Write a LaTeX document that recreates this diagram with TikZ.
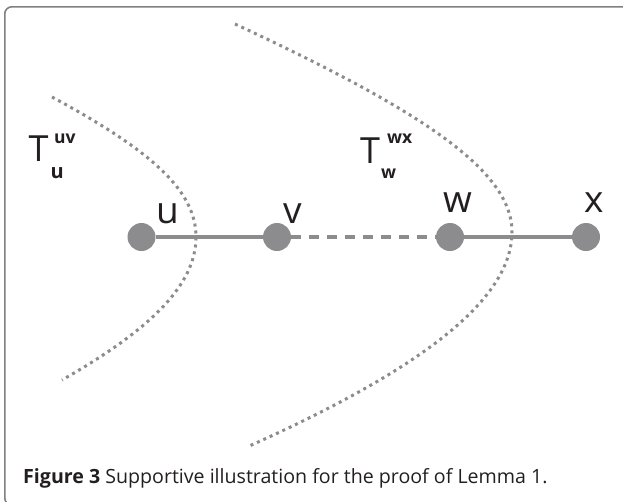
\documentclass[tikz,border=0pt]{standalone}
\usepackage{fontspec}
\setmainfont{Open Sans}
\definecolor{nodegray}{HTML}{8C8C8E}
\definecolor{framegray}{HTML}{808080}
\definecolor{ink}{HTML}{231F20}
\begin{document}
\begin{tikzpicture}[x=1pt,y=-1pt,
  vtx/.style={circle,fill=nodegray,inner sep=0pt,minimum size=28pt},
  edgeline/.style={draw=nodegray,line width=4pt},
  dashedge/.style={draw=nodegray,line width=4pt,dash pattern=on 10pt off 8pt},
  dotcurve/.style={draw=nodegray,line width=3pt,dash pattern=on 3pt off 4pt},
  lbl/.style={anchor=base,inner sep=0pt,text=ink,font=\fontsize{37}{37}\selectfont},
  tlbl/.style={anchor=base west,inner sep=0pt,text=ink,font=\fontsize{36}{36}\selectfont},
  smlbl/.style={anchor=base west,inner sep=0pt,text=ink,font=\bfseries\fontsize{17.5}{17.5}\selectfont},
]
\useasboundingbox (0,0) rectangle (623,501);
\begin{scope}
\clip (0,0) rectangle (623,501);
\draw[framegray,line width=1.6pt,rounded corners=7pt] (4.8,6.8) rectangle (640,505);
\end{scope}
% dotted curves
\draw[dotcurve] (52,97) .. controls (150,150) and (196,190) .. (196,237)
  .. controls (196,285) and (150,330) .. (62,380);
\draw[dotcurve] (235,24) .. controls (420,110) and (512,170) .. (512,232)
  .. controls (512,300) and (420,370) .. (247,447);
% vertices
\node[vtx] (u) at (141.5,237) {};
\node[vtx] (v) at (277,237) {};
\node[vtx] (w) at (450,237) {};
\node[vtx] (x) at (586,237) {};
\draw[edgeline] (u) -- (v);
\draw[dashedge] (v.east) -- (w.west);
\draw[edgeline] (w) -- (x);
% labels
\node[lbl] (lu) at (167.5,223) {u};
\node[lbl] (lv) at (293,223) {v};
\node[lbl] (lw) at (458,212) {w};
\node[lbl] (lx) at (594,212) {x};
\node[tlbl] (t1) at (28.5,161.7) {T};
\node[smlbl] (t1sup) at (54,143.3) {uv};
\node[smlbl,font=\bfseries\fontsize{20}{20}\selectfont] (t1sub) at (50.5,178.3) {u};
\node[tlbl] (t2) at (360,163.3) {T};
\node[smlbl] (t2sup) at (387,143.3) {wx};
\node[smlbl] (t2sub) at (381,178.3) {w};
% caption
\node[anchor=base west,inner sep=0pt,text=ink,font=\fontsize{19.6}{19.6}\selectfont] (cap) at (23,483)
  {\textbf{Figure 3} Supportive illustration for the proof of Lemma 1.};
\end{tikzpicture}
\end{document}
